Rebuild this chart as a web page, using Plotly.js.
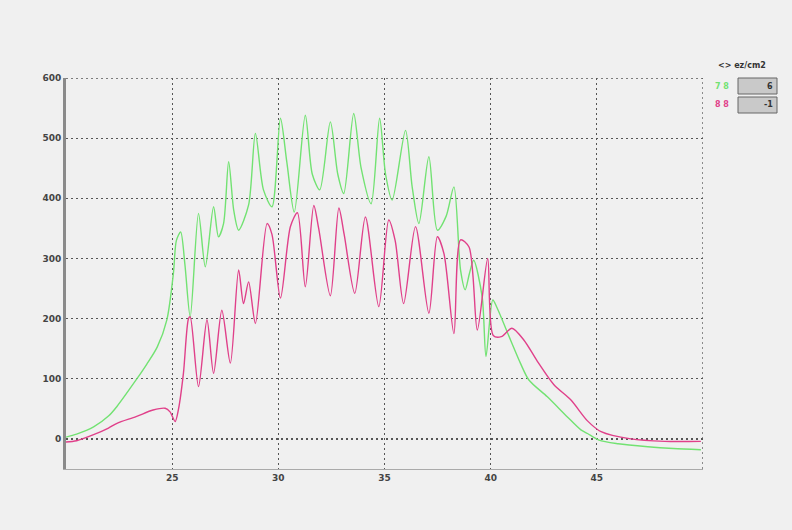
<!DOCTYPE html>
<html>
<head>
<meta charset="utf-8">
<script src="https://cdn.plot.ly/plotly-3.0.1.min.js"></script>
<style>html,body{margin:0;padding:0;background:#f0f0f0;}#chart{width:792px;height:530px;}</style>
</head>
<body>
<div id="chart"></div>
<script>
// Series
const greenX = [20.0,20.5,21.3,22.0,22.4,23.3,23.8,24.3,24.75,25.06,25.2,25.4,25.6,25.85,26.24,26.56,26.95,27.18,27.42,27.66,27.9,28.13,28.6,28.92,29.3,29.7,30.1,30.4,30.75,31.27,31.6,31.95,32.45,32.8,33.08,33.55,33.9,34.37,34.77,35.05,35.36,35.99,36.3,36.62,37.09,37.49,37.9,38.27,38.58,38.8,39.0,39.2,39.6,39.78,40.1,40.3,40.94,41.4,41.8,42.67,43.6,44.25,44.56,45.1,46.0,47.4,48.6,49.9];
const greenY = [3,8,20,38,54,98,124,153,198,276,330,344,290,203,375,286,386,336,358,461,380,347,389,508,414,386,533,460,377,538,440,414,527,440,408,541,450,391,533,440,397,513,420,358,469,347,370,419,281,248,275,297,236,137,231,218,164,126,98,70,37,15,9,-2,-8,-13,-16,-18];
const pinkX = [20.0,20.5,21.3,22.0,22.4,23.3,24.1,24.67,24.9,25.14,25.3,25.53,25.77,25.85,26.24,26.64,26.95,27.34,27.74,28.13,28.36,28.6,28.92,29.47,29.7,30.1,30.57,30.9,31.27,31.67,31.9,32.45,32.85,33.1,33.6,34.1,34.73,35.2,35.5,35.9,36.46,37.09,37.49,37.8,38.27,38.58,38.98,39.37,39.86,40.12,40.5,41.0,41.57,42.2,42.98,43.77,44.56,45.2,46.6,48.2,49.9];
const pinkY = [-5,-3,7,18,26,37,48,51,45,29,50,109,200,203,87,198,109,214,126,281,225,261,192,358,340,234,353,376,253,388,350,238,384,340,242,369,220,364,330,225,353,209,336,308,175,331,319,181,300,172,170,184,164,129,90,65,30,12,0,-4,-4];
const xTicks = [25,30,35,40,45];
const yTicks = [0,100,200,300,400,500,600];
const legendTitle = "<> ez/cm2";
const legendNames = ["7 8","8 8"];
const legendValues = ["6","-1"];
const colors = ["#72e272","#e0408a"];

const traces = [
  {x: greenX, y: greenY, type: "scatter", mode: "lines", line: {color: colors[0], width: 1.4, shape: "spline", smoothing: 0.8}, name: legendNames[0], showlegend: false},
  {x: pinkX, y: pinkY, type: "scatter", mode: "lines", line: {color: colors[1], width: 1.4, shape: "spline", smoothing: 0.8}, name: legendNames[1], showlegend: false}
];

// paper-coordinate helpers (plot area: x 66..703, y 78..469)
const px = v => (v - 66) / 637;
const py = v => (469 - v) / 391;
const gridDash = "2px,3px";

const layout = {
  width: 792, height: 530,
  paper_bgcolor: "#f0f0f0", plot_bgcolor: "#f0f0f0",
  margin: {l: 66, r: 89, t: 78, b: 61},
  font: {family: "DejaVu Sans", size: 9, color: "#333"},
  xaxis: {
    range: [20, 50], tickvals: xTicks, ticktext: xTicks.map(String),
    showgrid: true, gridcolor: "#555", griddash: gridDash, gridwidth: 1.3,
    zeroline: false, showline: true, linecolor: "#aaa", linewidth: 1,
    ticks: "", tickfont: {size: 9, color: "#444", family: "DejaVu Sans", weight: "bold"}
  },
  yaxis: {
    range: [-50, 600], tickvals: yTicks, ticktext: yTicks.map(String),
    showgrid: true, gridcolor: "#555", griddash: gridDash, gridwidth: 1.3,
    zeroline: false, showline: true, linecolor: "#8a8a8a", linewidth: 3,
    ticks: "", tickfont: {size: 9, color: "#444", family: "DejaVu Sans", weight: "bold"}
  },
  shapes: [
    {type: "line", xref: "x", yref: "paper", x0: 50, x1: 50, y0: 0, y1: 1, line: {color: "#555", width: 1.3, dash: gridDash}},
    {type: "line", xref: "paper", yref: "y", x0: 0, x1: 1, y0: 600, y1: 600, line: {color: "#555", width: 1.3, dash: gridDash}},
    {type: "rect", xref: "paper", yref: "paper", x0: px(738), x1: px(777), y0: py(94), y1: py(78), fillcolor: "#c9c9c9", line: {color: "#666", width: 1}},
    {type: "rect", xref: "paper", yref: "paper", x0: px(738), x1: px(777), y0: py(113), y1: py(97), fillcolor: "#c9c9c9", line: {color: "#666", width: 1}}
  ],
  annotations: [
    {xref: "paper", yref: "paper", x: px(742), y: py(66), text: legendTitle, showarrow: false, font: {size: 8, color: "#333", weight: "bold"}, xanchor: "center", yanchor: "middle"},
    {xref: "paper", yref: "paper", x: px(722), y: py(86), text: legendNames[0], showarrow: false, font: {size: 8, color: colors[0], weight: "bold"}, xanchor: "center", yanchor: "middle"},
    {xref: "paper", yref: "paper", x: px(722), y: py(105), text: legendNames[1], showarrow: false, font: {size: 8, color: colors[1], weight: "bold"}, xanchor: "center", yanchor: "middle"},
    {xref: "paper", yref: "paper", x: px(775), y: py(86), text: legendValues[0], showarrow: false, font: {size: 8, color: "#333", weight: "bold"}, xanchor: "right", yanchor: "middle"},
    {xref: "paper", yref: "paper", x: px(775), y: py(105), text: legendValues[1], showarrow: false, font: {size: 8, color: "#333", weight: "bold"}, xanchor: "right", yanchor: "middle"}
  ]
};

Plotly.newPlot("chart", traces, layout, {displayModeBar: false, staticPlot: true});
</script>
</body>
</html>
